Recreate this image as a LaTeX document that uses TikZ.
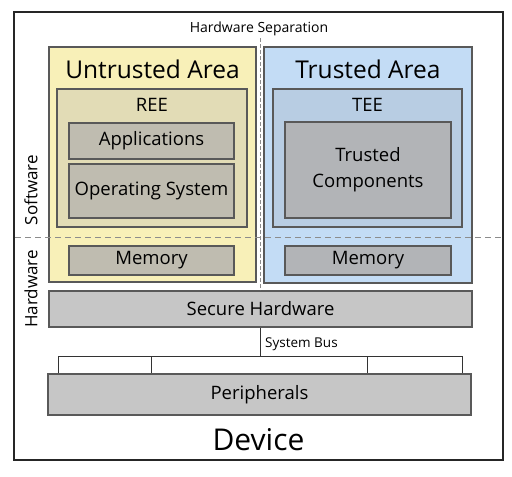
\documentclass[tikz,border=0pt]{standalone}
\usepackage{fontspec}
\setmainfont{Open Sans}
\begin{document}
\begin{tikzpicture}[x=1pt,y=-1pt,
  box/.style={draw=#1,line width=1.1pt,rectangle,inner sep=0pt},
  area/.style={box=black!65},
  lbl/.style={inner sep=0pt,anchor=center},
  sep/.style={draw=black!45,line width=0.8pt},
  bus/.style={draw=black!80,line width=1pt},
  mid/.style={font=\fontsize{18.5}{18.5}\selectfont}]
\useasboundingbox (0,0) rectangle (512,477);
\definecolor{yarea}{HTML}{F8F0B8}
\definecolor{ree}{HTML}{E2DCB6}
\definecolor{ygray}{HTML}{BFBCB0}
\definecolor{barea}{HTML}{C3DCF5}
\definecolor{tee}{HTML}{B8CDE3}
\definecolor{bgray}{HTML}{B2B4B7}
\definecolor{hgray}{HTML}{C6C6C6}
% device
\node[box=black!85,line width=1.4pt,minimum width=489,minimum height=448] (dev) at (258.5,236) {};
\node[lbl,font=\fontsize{30}{30}\selectfont] (devl) at (258.5,440) {Device};
% areas
\node[area,fill=yarea,minimum width=207,minimum height=235] (ua) at (152.5,164.5) {};
\node[area,fill=barea,minimum width=208,minimum height=236] (ta) at (368,165) {};
\node[lbl,font=\fontsize{24.5}{25}\selectfont] (ual) at (152.5,69) {Untrusted Area};
\node[lbl,font=\fontsize{24.5}{25}\selectfont] (tal) at (368,69) {Trusted Area};
\node[area,fill=ree,minimum width=190,minimum height=138] (ree) at (152,158) {};
\node[area,fill=tee,minimum width=189,minimum height=138] (teebox) at (367.5,158) {};
\node[lbl,mid] (reel) at (152,105) {REE};
\node[lbl,mid] (teel) at (367.5,105) {TEE};
\node[area,fill=ygray,minimum width=165,minimum height=36,mid] (app) at (151.5,141) {Applications};
\node[area,fill=ygray,minimum width=165,minimum height=54,mid] (os) at (151.5,191) {Operating System};
\node[area,fill=bgray,minimum width=166,minimum height=96,font=\fontsize{18.5}{26}\selectfont,align=center] (tc) at (368,170) {Trusted\\Components};
\node[area,fill=ygray,minimum width=165,minimum height=29,mid] (meml) at (151.5,260.5) {Memory};
\node[area,fill=bgray,minimum width=166,minimum height=29,mid] (memr) at (368,260.5) {Memory};
% hardware
\node[area,fill=hgray,minimum width=423,minimum height=36,mid] (sh) at (260.5,309) {Secure Hardware};
\node[area,fill=hgray,minimum width=423,minimum height=41,mid] (per) at (259.5,394.5) {Peripherals};
% separation lines
\coordinate (st) at (260,38);
\coordinate (sb) at (260,290);
\draw[sep,dash pattern=on 4pt off 2pt] (st) -- (sb);
\node[lbl,font=\fontsize{14}{14}\selectfont] (hsl) at (259,29) {Hardware Separation};
\coordinate (dl) at (15,237);
\coordinate (dr) at (502,237);
\draw[sep,dash pattern=on 6pt off 4pt] (dl) -- (dr);
\node[lbl,rotate=90,font=\fontsize{17}{17}\selectfont] (swl) at (31,190) {Software};
\node[lbl,rotate=90,font=\fontsize{17}{17}\selectfont] (hwl) at (31,289) {Hardware};
% bus
\coordinate (b0) at (260,356);
\coordinate (b1) at (58,356);
\coordinate (b2) at (151,356);
\coordinate (b3) at (367,356);
\coordinate (b4) at (462,356);
\draw[bus] (sh.south -| b0) -- (b0);
\draw[bus] (b1 |- per.north) -- (b1) -- (b4) -- (b4 |- per.north);
\draw[bus] (b2) -- (b2 |- per.north);
\draw[bus] (b3) -- (b3 |- per.north);
\node[lbl,anchor=west,font=\fontsize{13.5}{13.5}\selectfont] (sbl) at (265,344) {System Bus};
\end{tikzpicture}
\end{document}
